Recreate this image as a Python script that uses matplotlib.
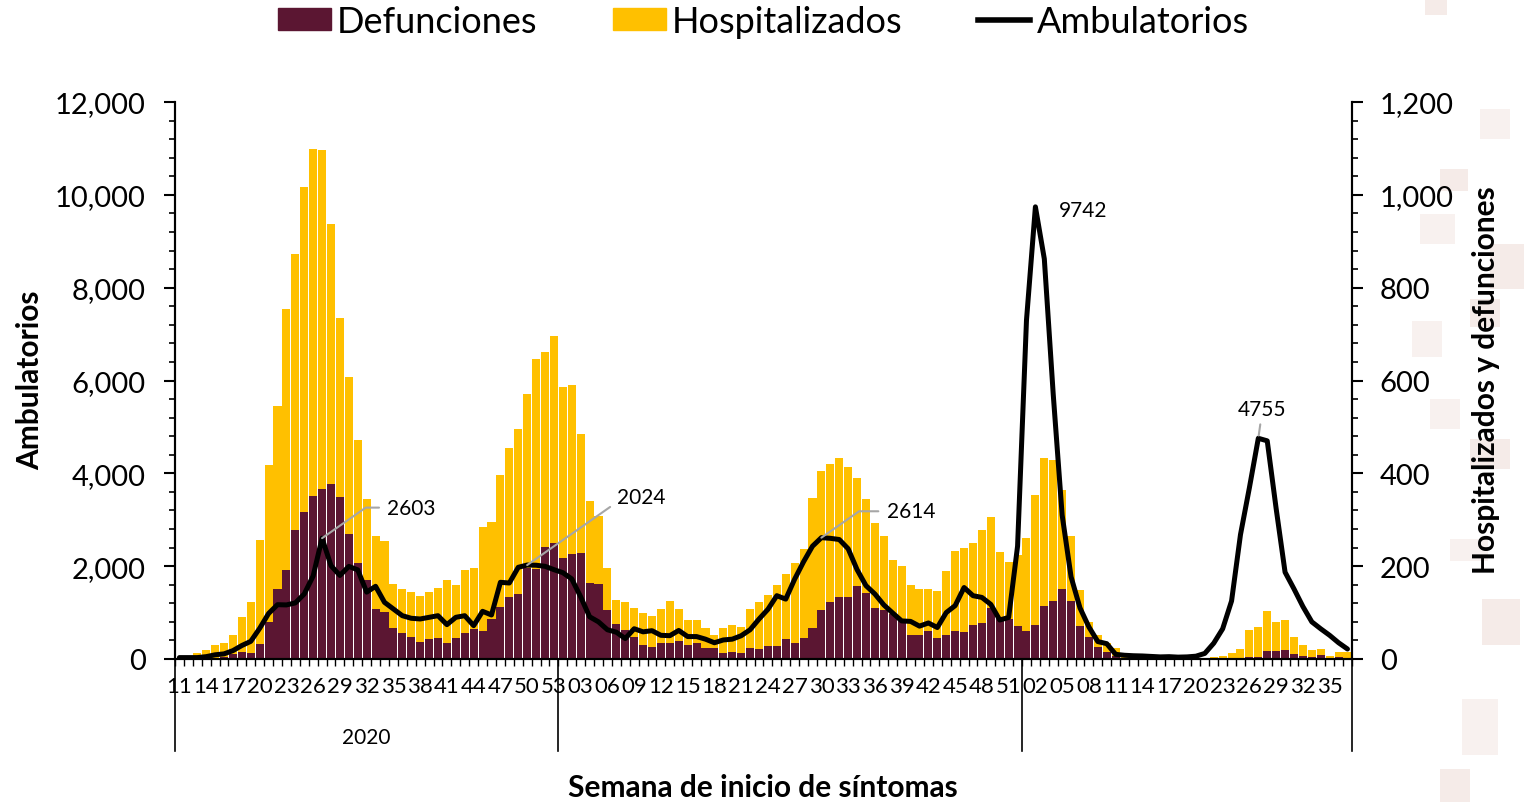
import numpy as np
import matplotlib.pyplot as plt
from matplotlib.ticker import FuncFormatter, MultipleLocator, FixedLocator
from matplotlib.lines import Line2D
from matplotlib.patches import Patch, Rectangle

plt.rcParams['font.family'] = ['Lato', 'DejaVu Sans']

# semanas epidemiologicas: 2020 (11-53), 2021 (1-52), 2022 (1-37)
semanas_2020 = list(range(11, 54))
semanas_2021 = list(range(1, 53))
semanas_2022 = list(range(1, 38))
semanas = [f'{w:02d}' for w in semanas_2020 + semanas_2021 + semanas_2022]

hospitalizados = [
    3, 5, 13, 19, 31, 34, 51, 90, 122, 256, 417, 545, 755, 873, 1017, 1099, 1096, 937, 735, 608,
    472, 345, 266, 255, 161, 150, 144, 136, 144, 152, 170, 160, 191, 195, 285, 295, 396, 454, 495, 571,
    647, 661, 696, 585, 591, 485, 340, 307, 195, 128, 123, 110, 99, 93, 107, 125, 107, 83, 83, 66,
    52, 67, 73, 68, 107, 122, 138, 160, 183, 207, 238, 346, 404, 420, 433, 414, 391, 344, 294, 264,
    214, 201, 160, 151, 151, 146, 190, 232, 240, 250, 277, 305, 230, 210, 224, 260, 353, 434, 428, 364,
    264, 149, 80, 52, 35, 24, 7, 3, 2, 2, 2, 2, 2, 2, 3, 3, 4, 6, 13, 22,
    62, 68, 103, 79, 84, 48, 30, 19, 22, 6, 16, 14]

defunciones = [
    1, 1, 2, 2, 3, 5, 10, 15, 12, 32, 80, 151, 191, 277, 316, 352, 367, 378, 349, 269,
    207, 170, 107, 101, 67, 56, 48, 37, 42, 45, 35, 45, 55, 64, 60, 86, 113, 133, 141, 195,
    193, 242, 249, 218, 226, 228, 164, 161, 105, 75, 63, 47, 30, 25, 34, 35, 39, 30, 34, 23,
    24, 12, 15, 13, 23, 21, 28, 28, 44, 34, 46, 67, 105, 122, 134, 134, 158, 143, 110, 105,
    97, 82, 52, 52, 60, 45, 52, 60, 58, 74, 78, 110, 90, 87, 72, 61, 73, 115, 124, 150,
    125, 70, 47, 26, 15, 7, 3, 1, 1, 1, 1, 1, 1, 1, 1, 1, 1, 1, 1, 1,
    5, 5, 17, 17, 20, 11, 6, 5, 9, 2, 4, 3]

ambulatorios = [
    30, 30, 30, 50, 90, 110, 180, 290, 380, 660, 980, 1170, 1165, 1208, 1400, 1790, 2603, 2010, 1800, 1995,
    1920, 1440, 1566, 1221, 1077, 933, 877, 862, 898, 933, 740, 898, 933, 718, 1027, 948, 1652, 1637, 1975, 2024,
    2020, 1997, 1925, 1860, 1725, 1340, 910, 800, 630, 577, 440, 652, 585, 610, 510, 502, 615, 483, 483, 427,
    350, 410, 427, 501, 630, 860, 1070, 1364, 1290, 1720, 2095, 2430, 2614, 2600, 2574, 2375, 1925, 1580, 1400, 1165,
    990, 820, 810, 708, 776, 678, 1000, 1150, 1540, 1364, 1326, 1176, 840, 895, 2430, 7300, 9742, 8620, 5700, 3100,
    1770, 1100, 690, 375, 330, 100, 80, 70, 65, 55, 45, 50, 40, 45, 60, 120, 340, 650, 1250, 2680,
    3690, 4755, 4700, 3240, 1870, 1510, 1130, 800, 650, 510, 350, 215]

# etiquetas de valores destacados (indice, texto, offset en puntos)
etiquetas = [(16, '2603', (47, 22)), (39, '2024', (65, 49)), (72, '2614', (47, 19)),
             (96, '9742', (17, -2)), (121, '4755', (3, 14))]

anios = ['2020', '', '']

col_def = '#5B1632'
col_hosp = '#FFC000'

x = np.arange(len(semanas))

fig = plt.figure(figsize=(15.24, 8.03), dpi=100)

# mosaico decorativo tenue en el borde derecho
cuadros = [(1425, 0, 22, 16), (1480, 110, 30, 30), (1440, 170, 28, 22), (1420, 215, 35, 30),
           (1490, 245, 34, 45), (1412, 322, 30, 36), (1470, 300, 30, 28), (1430, 400, 30, 30),
           (1470, 440, 40, 30), (1450, 540, 38, 22), (1482, 600, 38, 46), (1462, 700, 36, 56),
           (1440, 770, 30, 33)]
for k, (cx, cy, cw, ch) in enumerate(cuadros):
    fig.add_artist(Rectangle((cx / 1524, 1 - (cy + ch) / 803), cw / 1524, ch / 803,
                             transform=fig.transFigure, color='#f8f1ef' if k % 2 else '#f5ebe8',
                             lw=0, zorder=0))

ax = fig.add_axes([0.1148, 0.1781, 0.7723, 0.6936])
ax2 = ax.twinx()
ax.set_zorder(ax2.get_zorder() + 1)
ax.patch.set_visible(False)
ax2.patch.set_visible(False)

ax2.bar(x, hospitalizados, width=0.9, color=col_hosp, linewidth=0)
ax2.bar(x, defunciones, width=0.9, color=col_def, linewidth=0)
ax.plot(x, ambulatorios, color='black', lw=3.6, solid_joinstyle='round', solid_capstyle='round')

ax.set_xlim(-0.5, len(semanas) - 0.5)
ax.set_ylim(0, 12000)
ax2.set_ylim(0, 1200)

fmt = FuncFormatter(lambda v, p: f'{int(v):,}')
ax.yaxis.set_major_locator(MultipleLocator(2000))
ax.yaxis.set_minor_locator(MultipleLocator(400))
ax.yaxis.set_major_formatter(fmt)
ax2.yaxis.set_major_locator(MultipleLocator(200))
ax2.yaxis.set_minor_locator(MultipleLocator(40))
ax2.yaxis.set_major_formatter(fmt)

ax.tick_params(axis='y', which='major', labelsize=21, length=8, width=1.5, pad=13)
ax.tick_params(axis='y', which='minor', length=4, width=1.2)
ax2.tick_params(axis='y', which='major', labelsize=21, length=8, width=1.5, pad=12)
ax2.tick_params(axis='y', which='minor', length=4, width=1.2)

ax.xaxis.set_major_locator(FixedLocator(x[::3]))
ax.set_xticklabels(semanas[::3], family=['Liberation Sans Narrow', 'DejaVu Sans Condensed', 'Lato'],
                   fontsize=16)
ax.xaxis.set_minor_locator(FixedLocator(np.arange(-0.5, len(semanas), 1)))
ax.tick_params(axis='x', which='major', length=0, pad=12)
ax.tick_params(axis='x', which='minor', length=5, width=1)

for a in (ax, ax2):
    a.spines['top'].set_visible(False)
    for s in ('left', 'right', 'bottom'):
        a.spines[s].set_linewidth(1.5)

# separadores de anio debajo del eje
cortes = [-0.5, len(semanas_2020) - 0.5, len(semanas_2020) + len(semanas_2021) - 0.5, len(semanas) - 0.5]
trans = ax.get_xaxis_transform()
for c in cortes:
    ax.plot([c, c], [0, -0.165], transform=trans, color='black', lw=1.2, clip_on=False)
for k, nombre in enumerate(anios):
    ax.text((cortes[k] + cortes[k + 1]) / 2, -0.14, nombre, transform=trans, ha='center', va='center',
            fontsize=15, family=['Liberation Sans Narrow', 'DejaVu Sans Condensed', 'Lato'])

for i, txt, off in etiquetas:
    if i == 96:
        ax.annotate(txt, xy=(i, ambulatorios[i]), xytext=off, textcoords='offset points',
                    ha='left', va='center', fontsize=15)
    elif i == 121:
        ax.annotate(txt, xy=(i, ambulatorios[i]), xytext=off, textcoords='offset points',
                    ha='center', va='bottom', fontsize=15,
                    arrowprops=dict(arrowstyle='-', color='#A6A6A6', lw=1.5, shrinkA=2, shrinkB=2))
    else:
        ax.annotate(txt, xy=(i, ambulatorios[i]), xytext=off, textcoords='offset points',
                    ha='left', va='center', fontsize=15,
                    arrowprops=dict(arrowstyle='-', color='#A6A6A6', lw=1.5, shrinkA=4, shrinkB=0,
                                    relpos=(0, 0.5), connectionstyle='angle,angleA=0,angleB=35'))

fig.text(0.0197, 0.527, 'Ambulatorios', rotation=90, ha='center', va='center',
         fontsize=21.5, fontweight='bold')
fig.text(0.975, 0.527, 'Hospitalizados y defunciones', rotation=90, ha='center', va='center',
         fontsize=21.5, fontweight='bold')
fig.text(0.5007, 0.0187, 'Semana de inicio de síntomas', ha='center', va='center',
         fontsize=21.5, fontweight='bold')

handles = [Patch(color=col_def), Patch(color=col_hosp), Line2D([], [], color='black', lw=4)]
fig.legend(handles, ['Defunciones', 'Hospitalizados', 'Ambulatorios'], loc='center',
           bbox_to_anchor=(0.501, 0.972), ncol=3, frameon=False, fontsize=26,
           handlelength=1.45, handleheight=0.55, handletextpad=0.17, columnspacing=2.1)

fig.savefig('out.png', dpi=100)
